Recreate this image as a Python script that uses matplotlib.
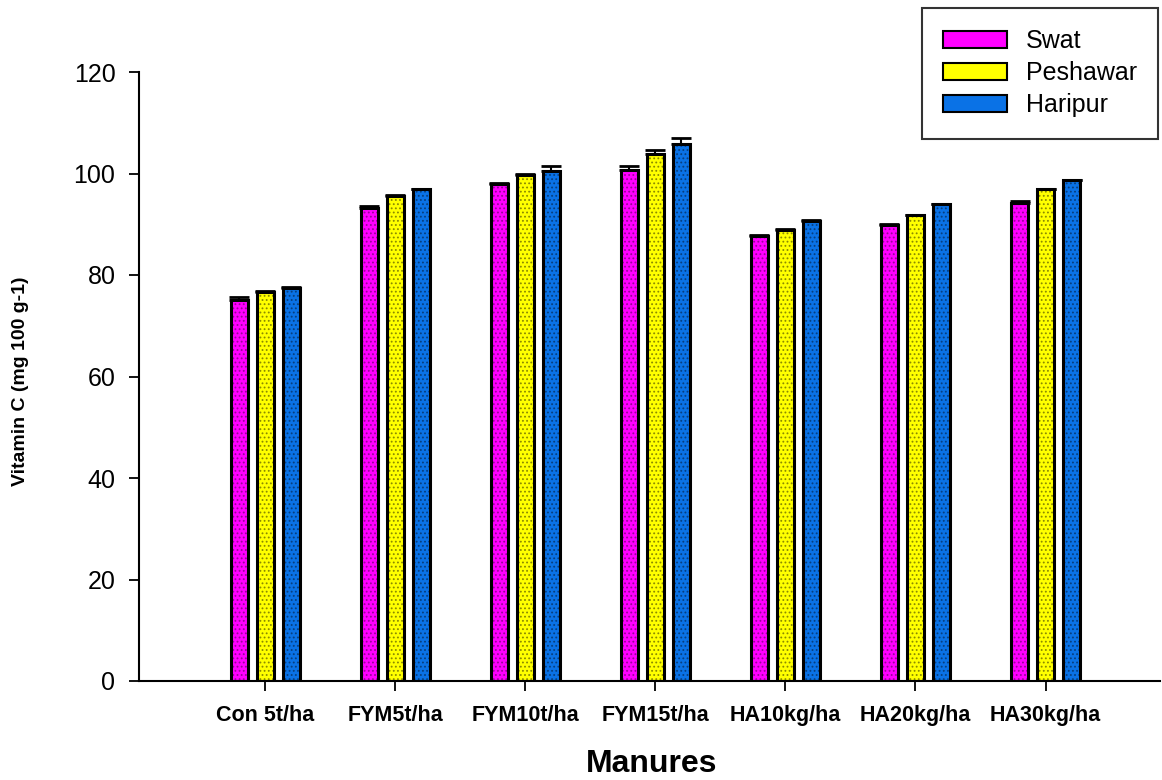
import numpy as np
import matplotlib.pyplot as plt
from matplotlib.patches import Patch

plt.rcParams['font.family'] = ['Liberation Sans', 'DejaVu Sans']
plt.rcParams['hatch.linewidth'] = 0.8

# treatments and mean vitamin C for the three locations
manures = ['Con 5t/ha', 'FYM5t/ha', 'FYM10t/ha', 'FYM15t/ha',
           'HA10kg/ha', 'HA20kg/ha', 'HA30kg/ha']
locations = ['Swat', 'Peshawar', 'Haripur']

swat = [75.1, 93.3, 98.0, 100.6, 87.7, 89.9, 94.1]
peshawar = [76.6, 95.6, 99.8, 103.8, 88.9, 91.8, 96.9]
haripur = [77.5, 96.9, 100.5, 105.9, 90.7, 93.9, 98.7]

swat_err = [0.5, 0.3, 0.2, 0.8, 0.1, 0.1, 0.5]
peshawar_err = [0.2, 0.1, 0.1, 0.8, 0.1, 0.1, 0.1]
haripur_err = [0.1, 0.1, 0.9, 1.1, 0.1, 0.1, 0.1]

fill_colors = ['#FF00FF', '#FFFF00', '#0A72E6']
dot_colors = ['#9A009A', '#8A8A00', '#063F80']

fig = plt.figure(figsize=(11.62, 7.8), dpi=100)
ax = fig.add_axes([139 / 1162, 1 - 681 / 780, 1021 / 1162, 609 / 780])

x = np.arange(len(manures))
width = 0.13
offsets = [-0.2, 0.0, 0.2]
series = [swat, peshawar, haripur]
errors = [swat_err, peshawar_err, haripur_err]

for vals, errs, off, fc, dc in zip(series, errors, offsets, fill_colors, dot_colors):
    pos = x + off
    ax.bar(pos, vals, width, color=fc, edgecolor='none', zorder=2)
    ax.bar(pos, vals, width, color='none', edgecolor=dc, hatch='....',
           linewidth=0, zorder=3)
    ax.bar(pos, vals, width, color='none', edgecolor='black',
           linewidth=2.2, zorder=4)
    ax.errorbar(pos, vals, yerr=[np.zeros(len(vals)), errs], fmt='none',
                ecolor='black', elinewidth=1.5, capsize=7, capthick=2,
                zorder=5)

ax.set_xlim(-0.97, 6.88)
ax.set_ylim(0, 120)
ax.set_yticks(range(0, 121, 20))
ax.set_xticks(x)
ax.set_xticklabels(manures, fontsize=15.5, fontweight='bold')
ax.tick_params(axis='y', labelsize=18, length=7, width=1.3, pad=10)
ax.tick_params(axis='x', length=7, width=1.3, pad=10)

for side in ['top', 'right']:
    ax.spines[side].set_visible(False)
for side in ['left', 'bottom']:
    ax.spines[side].set_linewidth(1.5)

fig.text(21 / 1162, 1 - 381 / 780, 'Vitamin C (mg 100 g-1)', fontsize=14,
         fontweight='bold', rotation=90, ha='center', va='center')
fig.text(652 / 1162, 1 - 764 / 780, 'Manures', fontsize=23,
         fontweight='bold', ha='center', va='center')

handles = [Patch(facecolor=fc, edgecolor='black', linewidth=1.5)
           for fc in fill_colors]
leg = fig.legend(handles, locations, loc='upper right',
                 bbox_to_anchor=(1158 / 1162, 1 - 8 / 780),
                 fontsize=18, fancybox=False, frameon=True,
                 handlelength=2.56, handleheight=0.72, handletextpad=0.75,
                 borderpad=0.85, labelspacing=0.32, borderaxespad=0)
leg.get_frame().set_edgecolor('black')
leg.get_frame().set_linewidth(1.5)

fig.savefig('out.png', dpi=100)
